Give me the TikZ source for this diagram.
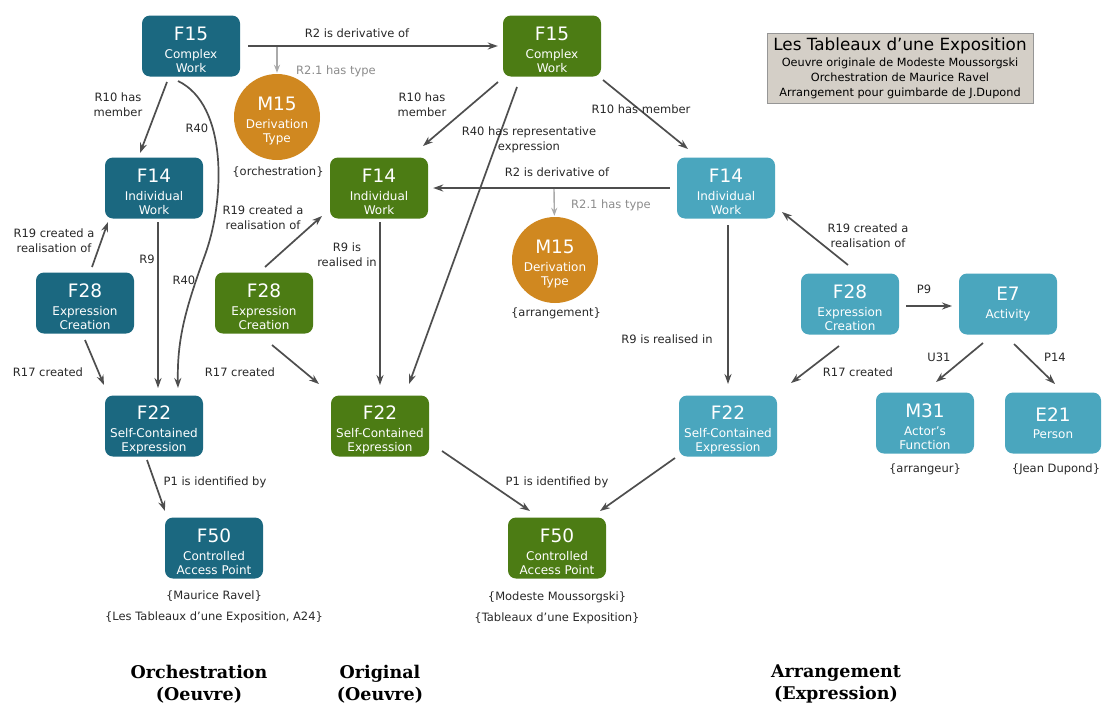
\documentclass[tikz,border=0pt]{standalone}
\usepackage{fontspec}
\setmainfont{DejaVu Sans}
\newfontfamily\capfont{DejaVu Serif}
\usetikzlibrary{arrows.meta,calc}

\definecolor{workteal}{RGB}{27,104,128}
\definecolor{workgreen}{RGB}{76,124,20}
\definecolor{workblue}{RGB}{74,166,190}
\definecolor{typeorange}{RGB}{208,136,32}
\definecolor{arrowgrey}{RGB}{78,78,78}
\definecolor{labelgrey}{RGB}{40,40,40}
\definecolor{softgrey}{RGB}{170,170,170}
\definecolor{softtext}{RGB}{140,140,140}
\definecolor{legendfill}{RGB}{212,207,199}
\definecolor{legendline}{RGB}{150,150,150}

% entity label: class code in large type, then its name in small type
\newcommand\ent[2]{\rule{0pt}{22pt}{\fontsize{18.5}{18}\selectfont #1}\\[3pt]#2}
\newcommand\entone[2]{{\fontsize{18.5}{18}\selectfont #1}\\[3pt]#2}

\begin{document}
\begin{tikzpicture}[x=1pt,y=-1pt,
  entity/.style={rounded corners=8pt, minimum width=98pt, minimum height=61pt,
    inner sep=0pt, text=white, align=center, font=\fontsize{12}{14.5}\selectfont},
  typecirc/.style={circle, fill=typeorange, minimum size=86pt, inner sep=0pt,
    text=white, align=center, font=\fontsize{12}{14.5}\selectfont},
  note/.style={text=labelgrey, align=center, inner sep=0pt,
    font=\fontsize{11.5}{21}\selectfont},
  lbl/.style={text=labelgrey, align=center, inner sep=0pt,
    font=\fontsize{11.5}{15}\selectfont},
  softlbl/.style={lbl, text=softtext},
  link/.style={draw=arrowgrey, line width=1.7pt, -{Stealth[length=10pt,width=7pt]}},
  typelink/.style={draw=softgrey, line width=1.4pt, -{Stealth[length=8pt,width=6pt]}},
  category/.style={align=center, inner sep=0pt, text=black,
    font=\capfont\bfseries\fontsize{17.5}{22}\selectfont},
  legendbox/.style={fill=legendfill, draw=legendline, line width=0.8pt,
    minimum width=266pt, minimum height=70pt, inner sep=0pt, align=center,
    font=\fontsize{11.3}{15}\selectfont}
]
\fill[white] (0,0) rectangle (1102,707);
\useasboundingbox (0,0) rectangle (1102,707);

% ---------- legend ----------
\node[legendbox] (legend) at (900,68)
  {{\fontsize{16.8}{17}\selectfont Les Tableaux d'une Exposition}\\[1pt]
   Oeuvre originale de Modeste Moussorgski\\
   Orchestration de Maurice Ravel\\
   Arrangement pour guimbarde de J.Dupond};

% ---------- orchestration (work) ----------
\node[entity, fill=workteal] (f15a) at (191,46) {\ent{F15}{Complex\\Work}};
\node[entity, fill=workteal] (f14a) at (154,188) {\ent{F14}{Individual\\Work}};
\node[entity, fill=workteal] (f28a) at (85,303) {\ent{F28}{Expression\\Creation}};
\node[entity, fill=workteal] (f22a) at (154,426) {\ent{F22}{Self-Contained\\Expression}};
\node[entity, fill=workteal] (f50a) at (214,548) {\ent{F50}{Controlled\\Access Point}};
\node[typecirc] (m15a) at (277,117) {\ent{M15}{Derivation\\Type}};
\node[note] (m15a-val) at (278,172) {\{orchestration\}};
\node[note] (f50a-val) at (214,607) {\{Maurice Ravel\}\\\{Les Tableaux d'une Exposition, A24\}};

% ---------- original (work) ----------
\node[entity, fill=workgreen] (f15b) at (552,46) {\ent{F15}{Complex\\Work}};
\node[entity, fill=workgreen] (f14b) at (379,188) {\ent{F14}{Individual\\Work}};
\node[entity, fill=workgreen] (f28b) at (264,303) {\ent{F28}{Expression\\Creation}};
\node[entity, fill=workgreen] (f22b) at (380,426) {\ent{F22}{Self-Contained\\Expression}};
\node[entity, fill=workgreen] (f50b) at (557,548) {\ent{F50}{Controlled\\Access Point}};
\node[typecirc] (m15b) at (555,260) {\ent{M15}{Derivation\\Type}};
\node[note] (m15b-val) at (556,313) {\{arrangement\}};
\node[note] (f50b-val) at (557,608) {\{Modeste Moussorgski\}\\\{Tableaux d'une Exposition\}};

% ---------- arrangement (expression) ----------
\node[entity, fill=workblue] (f14c) at (726,188) {\ent{F14}{Individual\\Work}};
\node[entity, fill=workblue] (f28c) at (850,304) {\ent{F28}{Expression\\Creation}};
\node[entity, fill=workblue] (f22c) at (728,426) {\ent{F22}{Self-Contained\\Expression}};
\node[entity, fill=workblue] (e7) at (1008,304) {\entone{E7}{Activity}};
\node[entity, fill=workblue] (m31) at (925,423) {\ent{M31}{Actor's\\Function}};
\node[entity, fill=workblue, minimum width=96pt] (e21) at (1053,423) {\entone{E21}{Person}};
\node[note] (m31-val) at (925,469) {\{arrangeur\}};
\node[note] (e21-val) at (1056,469) {\{Jean Dupond\}};

% ---------- links of the orchestration ----------
\draw[link, shorten <=8pt, shorten >=5pt] (f15a) -- (f15b);
\node[lbl] (l-r2a) at (357,33) {R2 is derivative of};
\coordinate (r2a-foot) at (277,47);
\draw[typelink, shorten >=1pt] (r2a-foot) -- (m15a);
\node[softlbl] (l-r21a) at (336,71) {R2.1 has type};

\draw[link] ($(f15a)+(-24,36)$) -- ($(f14a)+(-14,-35)$);
\node[lbl] (l-r10a) at (118,105) {R10 has\\member};

\coordinate (r40-bend) at (205,255);
\draw[link] ($(f15a)+(-13,35)$) .. controls (228,105) and (225,200) .. (r40-bend)
  .. controls (185,310) and (177,340) .. ($(f22a)+(24,-38)$);
\node[lbl] (l-r40a) at (197,128) {R40};
\node[lbl] (l-r40b) at (184,280) {R40};

\draw[link] ($(f14a)+(4,34)$) -- ($(f22a)+(4,-38)$);
\node[lbl] (l-r9a) at (147,259) {R9};

\draw[link] ($(f28a)+(7,-36)$) -- ($(f14a)+(-46,34)$);
\node[lbl] (l-r19a) at (54,241) {R19 created a\\realisation of};

\draw[link] ($(f28a)+(0,37)$) -- ($(f22a)+(-50,-41)$);
\node[lbl] (l-r17a) at (48,372) {R17 created};

\draw[link] ($(f22a)+(-7,34)$) -- ($(f50a)+(-49,-37)$);
\node[lbl] (l-p1a) at (215,482) {P1 is identified by};

% ---------- links of the original ----------
\draw[link] ($(f15b)+(-54,36)$) -- ($(f14b)+(44,-42)$);
\node[lbl] (l-r10b) at (422,105) {R10 has\\member};

\draw[link] ($(f15b)+(-35,41)$) -- ($(f22b)+(29,-42)$);
\node[lbl] (l-r40c) at (529,140) {R40 has representative\\expression};

\draw[link] ($(f15b)+(51,34)$) -- ($(f14c)+(-38,-39)$);
\node[lbl] (l-r10c) at (641,109) {R10 has member};

\draw[link, shorten <=7pt, shorten >=5pt] (f14c) -- (f14b);
\node[lbl] (l-r2b) at (557,172) {R2 is derivative of};
\coordinate (r2b-foot) at (554,189);
\draw[typelink, shorten >=1pt] (r2b-foot) -- (m15b);
\node[softlbl] (l-r21b) at (611,205) {R2.1 has type};

\draw[link] ($(f28b)+(1,-36)$) -- ($(f14b)+(-57,28)$);
\node[lbl] (l-r19b) at (263,218) {R19 created a\\realisation of};

\draw[link] ($(f14b)+(1,34)$) -- ($(f22b)+(0,-41)$);
\node[lbl] (l-r9b) at (347,255) {R9 is\\realised in};

\draw[link] ($(f28b)+(8,42)$) -- ($(f22b)+(-61,-42)$);
\node[lbl] (l-r17b) at (240,372) {R17 created};

\draw[link] ($(f22b)+(62,25)$) -- ($(f50b)+(-27,-37)$);
\node[lbl] (l-p1b) at (557,482) {P1 is identified by};
\draw[link] ($(f22c)+(-53,32)$) -- ($(f50b)+(43,-37)$);

% ---------- links of the arrangement ----------
\draw[link] ($(f14c)+(2,37)$) -- ($(f22c)+(0,-42)$);
\node[lbl] (l-r9c) at (667,339) {R9 is realised in};

\draw[link] ($(f28c)+(-2,-39)$) -- ($(f14c)+(56,24)$);
\node[lbl] (l-r19c) at (868,236) {R19 created a\\realisation of};

\draw[link] ($(f28c)+(-11,42)$) -- ($(f22c)+(63,-43)$);
\node[lbl] (l-r17c) at (858,372) {R17 created};

\draw[link] ($(f28c)+(56,2)$) -- ($(e7)+(-56,2)$);
\node[lbl] (l-p9) at (924,289) {P9};

\draw[link] ($(e7)+(-25,39)$) -- ($(m31)+(11,-41)$);
\node[lbl] (l-u31) at (939,357) {U31};

\draw[link] ($(e7)+(6,40)$) -- ($(e21)+(2,-39)$);
\node[lbl] (l-p14) at (1055,357) {P14};

% ---------- column captions ----------
\node[category] (cap-orch) at (199,684) {Orchestration\\(Oeuvre)};
\node[category] (cap-orig) at (380,684) {Original\\(Oeuvre)};
\node[category] (cap-arr) at (836,684) {Arrangement\\(Expression)};
\end{tikzpicture}
\end{document}
